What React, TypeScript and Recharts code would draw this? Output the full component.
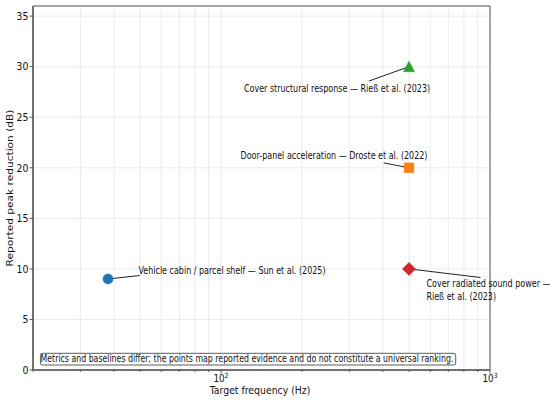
import React from 'react';
import { ScatterChart, Scatter, XAxis, YAxis, CartesianGrid, ReferenceLine } from 'recharts';

// ---- data ----
const STUDY_LABELS: string[][] = [
  ['Vehicle cabin / parcel shelf — Sun et al. (2025)'],
  ['Door-panel acceleration — Droste et al. (2022)'],
  ['Cover structural response — Rieß et al. (2023)'],
  ['Cover radiated sound power —', 'Rieß et al. (2023)'],
];
const TARGET_FREQ_HZ = [38, 500, 500, 500];
const PEAK_REDUCTION_DB = [9, 20, 30, 10];
const MARKERS = ['circle', 'square', 'triangle', 'diamond'];
const COLORS = ['#1f77b4', '#ff7f0e', '#2ca02c', '#d62728'];

const X_TICKS = [20, 30, 40, 50, 60, 70, 80, 90, 100, 200, 300, 400, 500, 600, 700, 800, 900, 1000];
const X_MAJOR_TICKS = [100, 1000];
const X_MAJOR_LABELS = [['10', '2'], ['10', '3']];
const Y_TICKS = [0, 5, 10, 15, 20, 25, 30, 35];

const X_TITLE = 'Target frequency (Hz)';
const Y_TITLE = 'Reported peak reduction (dB)';
const NOTE = 'Metrics and baselines differ; the points map reported evidence and do not constitute a universal ranking.';

// ---- annotation layout (pixel offsets from the marker) ----
const ANNOT_LAYOUT = [
  { tx: 124, ty: -8.5, anchor: 'middle', lx: 31.7, ly: -3.5 },
  { tx: -75, ty: -12.2, anchor: 'middle', lx: -25.3, ly: -4.9 },
  { tx: -72, ty: 22, anchor: 'middle', lx: -40.2, ly: 14.4 },
  { tx: 17.4, ty: 15.2, anchor: 'start', lx: 71.4, ly: 8.6 },
];

const FONT = 'DejaVu Sans, Verdana, sans-serif';
const TEXT_COLOR = '#111';

const SERIES = TARGET_FREQ_HZ.map((f, i) => [{ x: f, y: PEAK_REDUCTION_DB[i], i }]);

function SText(props: any) {
  const { x, y, anchor = 'middle', size = 9, sx = 0.85, rotate = false, children, fill = TEXT_COLOR } = props;
  const tr = rotate
    ? `translate(${x},${y}) scale(${sx},1) rotate(-90)`
    : `translate(${x},${y}) scale(${sx},1)`;
  return (
    <text
      transform={tr}
      textAnchor={anchor}
      dominantBaseline="central"
      fontSize={size}
      fontFamily={FONT}
      fill={fill}
    >
      {children}
    </text>
  );
}

function Marker({ kind, cx, cy, color }: any) {
  const stroke = color;
  if (kind === 'circle') return <circle cx={cx} cy={cy} r={5} fill={color} stroke={stroke} strokeWidth={0.6} />;
  if (kind === 'square')
    return <rect x={cx - 4.8} y={cy - 4.8} width={9.6} height={9.6} fill={color} stroke={stroke} strokeWidth={0.6} />;
  if (kind === 'triangle')
    return (
      <polygon
        points={`${cx},${cy - 5.5} ${cx - 5.5},${cy + 5} ${cx + 5.5},${cy + 5}`}
        fill={color}
        stroke={stroke}
        strokeWidth={0.6}
      />
    );
  return (
    <polygon
      points={`${cx},${cy - 6.5} ${cx + 6.5},${cy} ${cx},${cy + 6.5} ${cx - 6.5},${cy}`}
      fill={color}
      stroke="#b51f20"
      strokeWidth={0.6}
    />
  );
}

function makeShape(i: number) {
  return (props: any) => {
    const { cx, cy } = props;
    if (cx == null || cy == null) return <g />;
    const L = ANNOT_LAYOUT[i];
    const lines = STUDY_LABELS[i];
    return (
      <g>
        <line x1={cx} y1={cy} x2={cx + L.lx} y2={cy + L.ly} stroke="#222" strokeWidth={1} />
        {lines.map((t, k) => (
          <SText key={k} x={cx + L.tx} y={cy + L.ty + k * 12.4} anchor={L.anchor} size={10} sx={0.8}>
            {t}
          </SText>
        ))}
        <Marker kind={MARKERS[i]} cx={cx} cy={cy} color={COLORS[i]} />
      </g>
    );
  };
}

function XTick(props: any) {
  const { x, y, payload } = props;
  const v = payload.value;
  const mi = X_MAJOR_TICKS.indexOf(v);
  if (mi < 0) {
    return <line x1={x} y1={y} x2={x} y2={y + 2} stroke="#444" strokeWidth={0.8} />;
  }
  const [base, sup] = X_MAJOR_LABELS[mi];
  return (
    <g>
      <line x1={x} y1={y} x2={x} y2={y + 3.5} stroke="#444" strokeWidth={0.9} />
      <text
        transform={`translate(${x},${y + 12.3}) scale(0.88,1)`}
        textAnchor="middle"
        fontSize={10}
        fontFamily={FONT}
        fill={TEXT_COLOR}
      >
        {base}
        <tspan fontSize={7.2} dy={-4}>
          {sup}
        </tspan>
      </text>
    </g>
  );
}

function YTick(props: any) {
  const { x, y, payload } = props;
  return (
    <g>
      <line x1={x - 3.5} y1={y} x2={x} y2={y} stroke="#444" strokeWidth={0.9} />
      <SText x={x - 4.5} y={y} anchor="end" size={11} sx={0.85}>
        {String(payload.value)}
      </SText>
    </g>
  );
}

function XLabelContent(props: any) {
  const vb = props.viewBox || {};
  const x0 = vb.x ?? 33;
  const y0 = vb.y ?? 370;
  const w = vb.width ?? 457;
  return (
    <g>
      <rect x={x0 + 7.4} y={y0 - 16.7} width={415.3} height={11.7} rx={2} ry={2} fill="#fff" stroke="#333" strokeWidth={0.8} />
      <SText x={x0 + 214} y={y0 - 10.9} anchor="middle" size={10} sx={0.783}>
        {NOTE}
      </SText>
      <text
        transform={`translate(${x0 + w / 2 - 1.5},${y0 + 24}) scale(0.88,1)`}
        textAnchor="middle"
        fontSize={10.6}
        fontFamily={FONT}
        fill={TEXT_COLOR}
      >
        {X_TITLE}
      </text>
    </g>
  );
}

function YLabelContent(props: any) {
  const vb = props.viewBox || {};
  const x0 = vb.x ?? 8;
  const y0 = vb.y ?? 6;
  const h = vb.height ?? 364;
  return (
    <SText x={x0 + 1.8} y={y0 + h / 2} anchor="middle" size={10.6} sx={0.9} rotate>
      {Y_TITLE}
    </SText>
  );
}

export default function App() {
  return (
    <div style={{ position: 'absolute', left: 0, top: 0, width: 550, height: 400, background: '#fff' }}>
      <ScatterChart width={550} height={400} margin={{ top: 6, right: 60, bottom: 0, left: 8 }}>
        <CartesianGrid stroke="#e6e6e6" strokeWidth={0.8} />
        <XAxis
          dataKey="x"
          type="number"
          scale="log"
          domain={[20, 1000]}
          ticks={X_TICKS}
          interval={0}
          tickLine={false}
          tickSize={0}
          tickMargin={0}
          height={30}
          axisLine={{ stroke: '#444', strokeWidth: 1.5 }}
          tick={XTick}
          label={{ content: XLabelContent }}
        />
        <YAxis
          dataKey="y"
          type="number"
          domain={[0, 36]}
          ticks={Y_TICKS}
          interval={0}
          tickLine={false}
          tickSize={0}
          tickMargin={0}
          width={25}
          axisLine={{ stroke: '#444', strokeWidth: 1.5 }}
          tick={YTick}
          label={{ content: YLabelContent }}
        />
        <ReferenceLine y={36} stroke="#8a8a8a" strokeWidth={1.5} />
        <ReferenceLine x={1000} stroke="#8a8a8a" strokeWidth={1.5} />
        {SERIES.map((d, i) => (
          <Scatter key={i} data={d} isAnimationActive={false} shape={makeShape(i)} />
        ))}
      </ScatterChart>
    </div>
  );
}
